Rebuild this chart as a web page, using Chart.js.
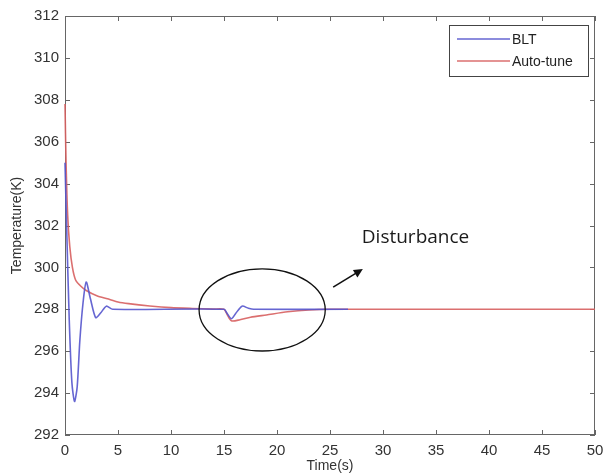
<!DOCTYPE html>
<html>
<head>
<meta charset="utf-8">
<script src="https://cdn.jsdelivr.net/npm/chart.js@4"></script>
<style>
  html, body { margin: 0; padding: 0; background: #fff; }
  #wrap { width: 605px; height: 476px; }
</style>
</head>
<body>
<div id="wrap"><canvas id="tempChart"></canvas></div>
<script>
// values
let bltTime  = [0, 0.15, 0.4, 0.65, 0.9, 1.15, 1.4, 1.7, 2.0, 2.4, 2.9, 3.4, 3.9, 4.5, 15.0, 15.3, 15.7, 16.1, 16.7, 17.3, 17.8, 26.7];
let bltTemp  = [305, 302, 297.5, 294.5, 293.6, 294.3, 296.5, 298.3, 299.3, 298.5, 297.6, 297.85, 298.15, 298.0, 298.0, 297.8, 297.55, 297.8, 298.15, 298.05, 298.0, 298.0];

let autoTime = [0, 0.1, 0.25, 0.45, 0.7, 1.0, 1.5, 2, 3, 4, 5, 6, 8, 10, 12, 14, 15, 15.3, 15.7, 16.5, 17.5, 19, 21, 23, 25, 50];
let autoTemp = [307.8, 305, 302.5, 301, 300, 299.4, 299.1, 298.9, 298.65, 298.5, 298.35, 298.27, 298.16, 298.08, 298.04, 298.01, 298.0, 297.75, 297.45, 297.5, 297.62, 297.73, 297.88, 297.97, 298.0, 298.0];

let seriesNames = ['BLT', 'Auto-tune'];

// annotation, in data units: ellipse centre/radii, arrow tail/head, label anchor
let ellipseAt  = [18.6, 297.97, 5.95, 1.96];
let arrowFrom  = [25.3, 299.06];
let arrowTo    = [28.1, 299.92];
let noteAt     = [28.0, 301.4];
let noteText   = 'Disturbance';

function toPoints(xs, ys){
    return xs.map((x, i) => ({x: x, y: ys[i]}));
}

const axisGray = '#666666';
const tickFont = {family: "'Liberation Sans', Arial, sans-serif", size: 15};

// box round the plot with inward ticks (under the curves), then legend and annotation on top
const matlabFrame = {
    id: 'matlabFrame',
    beforeDatasetsDraw(chart){
        let ctx = chart.ctx;
        let a = chart.chartArea;
        let xs = chart.scales.x, ys = chart.scales.y;
        ctx.save();
        ctx.strokeStyle = axisGray;
        ctx.lineWidth = 1;
        ctx.strokeRect(a.left + 0.5, a.top + 0.5, a.right - a.left - 1, a.bottom - a.top - 1);
        ctx.beginPath();
        xs.ticks.forEach(t => {
            let px = Math.round(xs.getPixelForValue(t.value)) + 0.5;
            ctx.moveTo(px, a.bottom); ctx.lineTo(px, a.bottom - 5);
            ctx.moveTo(px, a.top); ctx.lineTo(px, a.top + 5);
        });
        ys.ticks.forEach(t => {
            let py = Math.round(ys.getPixelForValue(t.value)) + 0.5;
            ctx.moveTo(a.left, py); ctx.lineTo(a.left + 5, py);
            ctx.moveTo(a.right, py); ctx.lineTo(a.right - 5, py);
        });
        ctx.stroke();
        ctx.restore();
    },
    afterDatasetsDraw(chart){
        let ctx = chart.ctx;
        let a = chart.chartArea;
        let xs = chart.scales.x, ys = chart.scales.y;
        ctx.save();

        // legend box, top right
        let lx = a.right - 146, ly = a.top + 9, lw = 139, lh = 51;
        ctx.fillStyle = '#fff';
        ctx.fillRect(lx, ly, lw, lh);
        ctx.strokeStyle = '#444';
        ctx.lineWidth = 1;
        ctx.strokeRect(lx + 0.5, ly + 0.5, lw, lh);
        ctx.font = "14px 'Liberation Sans', Arial, sans-serif";
        ctx.textBaseline = 'middle';
        chart.data.datasets.forEach((ds, i) => {
            let y = ly + 14 + i * 22;
            ctx.strokeStyle = ds.borderColor;
            ctx.lineWidth = 1.5;
            ctx.beginPath();
            ctx.moveTo(lx + 8, y); ctx.lineTo(lx + 61, y);
            ctx.stroke();
            ctx.fillStyle = '#222';
            ctx.fillText(ds.label, lx + 63, y + 1);
        });

        // ellipse round the disturbance
        ctx.strokeStyle = '#111';
        ctx.lineWidth = 1.3;
        let cx = xs.getPixelForValue(ellipseAt[0]);
        let cy = ys.getPixelForValue(ellipseAt[1]);
        let rx = xs.getPixelForValue(ellipseAt[0] + ellipseAt[2]) - cx;
        let ry = cy - ys.getPixelForValue(ellipseAt[1] + ellipseAt[3]);
        ctx.beginPath();
        ctx.ellipse(cx, cy, rx, ry, 0, 0, Math.PI * 2);
        ctx.stroke();

        // arrow
        let x0 = xs.getPixelForValue(arrowFrom[0]), y0 = ys.getPixelForValue(arrowFrom[1]);
        let x1 = xs.getPixelForValue(arrowTo[0]),   y1 = ys.getPixelForValue(arrowTo[1]);
        let ang = Math.atan2(y1 - y0, x1 - x0);
        ctx.lineWidth = 1.6;
        ctx.beginPath();
        ctx.moveTo(x0, y0);
        ctx.lineTo(x1 - 6 * Math.cos(ang), y1 - 6 * Math.sin(ang));
        ctx.stroke();
        ctx.fillStyle = '#111';
        ctx.beginPath();
        ctx.moveTo(x1, y1);
        ctx.lineTo(x1 - 10 * Math.cos(ang - 0.45), y1 - 10 * Math.sin(ang - 0.45));
        ctx.lineTo(x1 - 10 * Math.cos(ang + 0.45), y1 - 10 * Math.sin(ang + 0.45));
        ctx.closePath();
        ctx.fill();

        // label
        ctx.font = "19px 'Open Sans', 'Noto Sans', sans-serif";
        ctx.fillStyle = '#1a1a1a';
        ctx.textBaseline = 'middle';
        ctx.fillText(noteText, xs.getPixelForValue(noteAt[0]), ys.getPixelForValue(noteAt[1]));
        ctx.restore();
    }
};

let data = {
    datasets: [
        {
            label: seriesNames[0],
            data: toPoints(bltTime, bltTemp),
            borderColor: 'rgba(85, 85, 205, 0.9)',
            borderWidth: 1.6,
            pointRadius: 0,
            tension: 0.25,
            clip: false,
            order: 0
        },
        {
            label: seriesNames[1],
            data: toPoints(autoTime, autoTemp),
            borderColor: 'rgba(215, 95, 95, 0.9)',
            borderWidth: 1.6,
            pointRadius: 0,
            tension: 0.25,
            clip: false,
            order: 1
        }
    ]
};

let config = {
    type: 'line',
    data: data,
    options: {
        responsive: true,
        maintainAspectRatio: false,
        animation: false,
        layout: {
            padding: {top: 16, right: 0, left: 0, bottom: 0}
        },
        plugins: {
            legend: {display: false},
            tooltip: {enabled: false}
        },
        scales: {
            x: {
                type: 'linear',
                min: 0,
                max: 50,
                ticks: {stepSize: 5, color: '#333', font: tickFont, padding: 7, maxRotation: 0},
                grid: {display: false, drawTicks: false},
                border: {display: false},
                title: {
                    display: true,
                    text: 'Time(s)',
                    color: '#333',
                    font: {family: "'Liberation Sans', Arial, sans-serif", size: 14},
                    padding: {top: 0, bottom: 1}
                },
                afterFit: s => { s.height = 41; s.paddingLeft = 0; s.paddingRight = 10; }
            },
            y: {
                min: 292,
                max: 312,
                ticks: {stepSize: 2, color: '#333', font: tickFont, padding: 6},
                grid: {display: false, drawTicks: false},
                border: {display: false},
                title: {
                    display: true,
                    text: 'Temperature(K)',
                    color: '#333',
                    font: {family: "'Liberation Sans', Arial, sans-serif", size: 14},
                    padding: {top: 9, bottom: 0}
                },
                afterFit: s => { s.width = 65; }
            }
        }
    },
    plugins: [matlabFrame]
};

let ctx = document.getElementById('tempChart').getContext('2d');
window.tempChart = new Chart(ctx, config);
</script>
</body>
</html>
